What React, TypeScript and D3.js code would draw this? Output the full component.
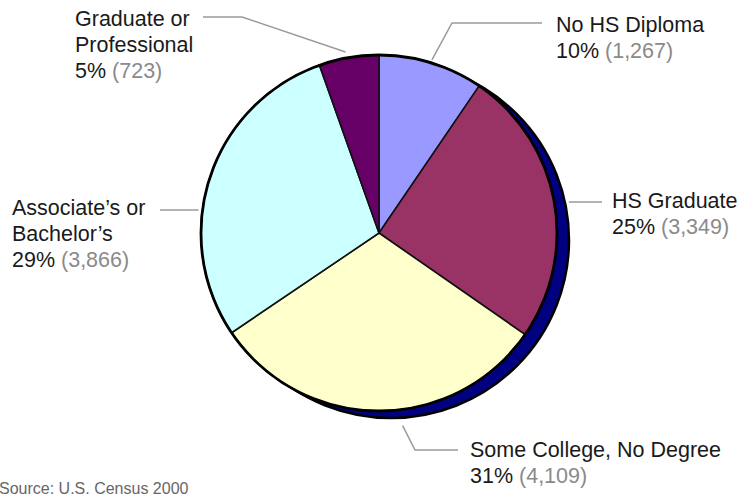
import React from "react";
import * as d3 from "d3";

const nameLines: string[][] = [
  ["No HS Diploma"],
  ["HS Graduate"],
  ["Some College, No Degree"],
  ["Associate’s or", "Bachelor’s"],
  ["Graduate or", "Professional"],
];
const counts = [1267, 3349, 4109, 3866, 723];
const percents = [10, 25, 31, 29, 5];
const colors = ["#9999FF", "#993366", "#FFFFCC", "#CCFFFF", "#660066"];
const sourceText = "Source: U.S. Census 2000";

const W = 745;
const H = 497;
const cx = 379;
const cy = 233;
const R = 178;
const shadowDx = 12;
const shadowDy = 7;
const lineH = 26;

// label layout: text position and leader elbow points
type Lay = { tx: number; ty: number; kind: "angle" | "hleft" | "hright"; angleDeg?: number; rOff?: number; pts: [number, number][] };
const layout: Lay[] = [
  { tx: 556, ty: 32, kind: "angle", angleDeg: 17, rOff: 3, pts: [[452, 23], [542, 23]] },
  { tx: 612, ty: 208, kind: "hright", pts: [[602, 202]] },
  { tx: 470, ty: 457, kind: "angle", angleDeg: 173, rOff: 16, pts: [[415, 450], [458, 450]] },
  { tx: 12, ty: 215, kind: "hleft", pts: [[160, 210]] },
  { tx: 75, ty: 26, kind: "angle", angleDeg: 349.5, rOff: 6, pts: [[242, 17], [203, 17]] },
];

export default function App() {
  const pie = d3.pie<number>().sort(null).value((d) => d);
  const arcs = pie(counts);
  const arcGen = d3.arc<d3.PieArcDatum<number>>().innerRadius(0).outerRadius(R);
  const fmt = d3.format(",");

  const leaders = layout.map((l) => {
    let start: [number, number];
    if (l.kind === "angle") {
      const a = ((l.angleDeg as number) * Math.PI) / 180;
      const rr = R + (l.rOff as number);
      start = [cx + rr * Math.sin(a), cy - rr * Math.cos(a)];
    } else if (l.kind === "hright") {
      const y = l.pts[0][1];
      const dy = y - (cy + shadowDy);
      start = [cx + shadowDx + Math.sqrt(R * R - dy * dy) + 4, y];
    } else {
      const y = l.pts[0][1];
      const dy = y - cy;
      start = [cx - Math.sqrt(R * R - dy * dy) - 4, y];
    }
    return d3.line()([start, ...l.pts]) as string;
  });

  return (
    <svg
      width={W}
      height={H}
      style={{ position: "absolute", left: 0, top: 0, background: "#fff" }}
      fontFamily="'Liberation Sans', Arial, sans-serif"
    >
      <rect width={W} height={H} fill="#fff" />
      <circle cx={cx + shadowDx} cy={cy + shadowDy} r={R} fill="#000080" stroke="#000" strokeWidth={2.5} />
      <g transform={`translate(${cx},${cy})`}>
        {arcs.map((a, i) => (
          <path key={i} d={arcGen(a) as string} fill={colors[i]} stroke="#111" strokeWidth={1.6} strokeLinejoin="round" />
        ))}
        <circle r={R} fill="none" stroke="#000" strokeWidth={2.8} />
      </g>
      {leaders.map((d, i) => (
        <path key={i} d={d} fill="none" stroke="#9a9a9a" strokeWidth={1.5} />
      ))}
      {layout.map((l, i) => (
        <text key={i} x={l.tx} y={l.ty} fontSize={21.5} fill="#1a1a1a">
          {nameLines[i].map((s, j) => (
            <tspan key={j} x={l.tx} y={l.ty + j * lineH}>
              {s}
            </tspan>
          ))}
          <tspan x={l.tx} y={l.ty + nameLines[i].length * lineH}>
            {`${percents[i]}% `}
          </tspan>
          <tspan fill="#8a8a8a">{`(${fmt(counts[i])})`}</tspan>
        </text>
      ))}
      <text x={-1} y={494} fontSize={16} fill="#666">
        {sourceText}
      </text>
    </svg>
  );
}
